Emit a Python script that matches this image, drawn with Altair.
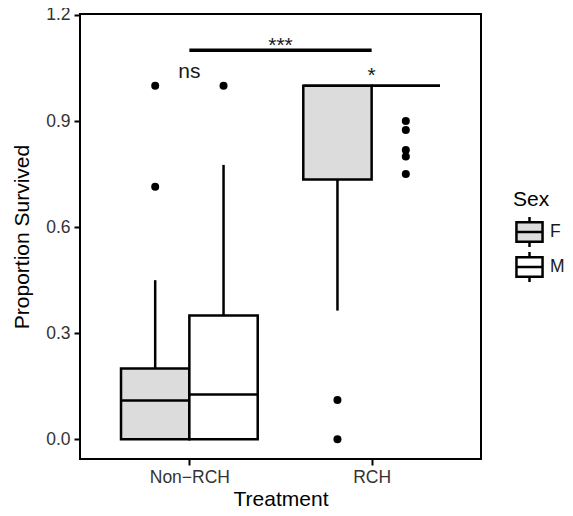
import altair as alt
import pandas as pd

# ---- data ----
treatments = ["Non−RCH", "RCH"]
sexes = ["F", "M"]

box_treatment = ["Non−RCH", "Non−RCH", "RCH", "RCH"]
box_sex = ["F", "M", "F", "M"]
lower_whisker = [0.0, 0.0, 0.364, 1.0]
q1 = [0.0, 0.0, 0.735, 1.0]
median = [0.11, 0.127, 1.0, 1.0]
q3 = [0.2, 0.35, 1.0, 1.0]
upper_whisker = [0.45, 0.776, 1.0, 1.0]

out_treatment = ["Non−RCH", "Non−RCH", "Non−RCH", "RCH", "RCH",
                 "RCH", "RCH", "RCH", "RCH", "RCH"]
out_sex = ["F", "F", "M", "F", "F", "M", "M", "M", "M", "M"]
out_value = [1.0, 0.714, 1.0, 0.111, 0.0, 0.9, 0.875, 0.818, 0.8, 0.75]

label_text = ["ns", "*"]
label_treatment = ["Non−RCH", "RCH"]
label_y = [1.022, 1.01]

bracket_from = "Non−RCH"
bracket_to = "RCH"
bracket_y = 1.1
bracket_text = "***"
bracket_text_y = 1.094

DODGE = 0.75  # total dodge width (ggplot default)


def pos(t):
    return treatments.index(t) + 1


def centre(t, s):
    return pos(t) + (sexes.index(s) - 0.5) * DODGE / 2


boxes = pd.DataFrame({
    "Treatment": box_treatment, "Sex": box_sex,
    "lw": lower_whisker, "q1": q1, "med": median, "q3": q3, "uw": upper_whisker,
})
boxes["xc"] = [centre(t, s) for t, s in zip(box_treatment, box_sex)]
boxes["xl"] = boxes["xc"] - DODGE / 4
boxes["xr"] = boxes["xc"] + DODGE / 4

outl = pd.DataFrame({"Treatment": out_treatment, "Sex": out_sex, "v": out_value})
outl["xc"] = [centre(t, s) for t, s in zip(out_treatment, out_sex)]

labels = pd.DataFrame({"text": label_text, "y": label_y})
labels["x"] = [pos(t) for t in label_treatment]

bracket = pd.DataFrame({"x": [pos(bracket_from)], "x2": [pos(bracket_to)],
                        "y": [bracket_y], "text": [bracket_text],
                        "ty": [bracket_text_y],
                        "xm": [(pos(bracket_from) + pos(bracket_to)) / 2]})

FONT = "Liberation Sans"
label_expr = " : ".join(
    [f"datum.value == {i + 1} ? '{t}'" for i, t in enumerate(treatments)]) + " : ''"

xscale = alt.Scale(domain=[0.4, 2.6], nice=False, zero=False)
yscale = alt.Scale(domain=[-0.0557, 1.2028], nice=False, zero=False)

xaxis = alt.Axis(values=[1, 2], labelExpr=label_expr, title="Treatment",
                 grid=False, domain=False, tickColor="black", tickWidth=2,
                 tickSize=6, labelFontSize=17.5, labelColor="#333333",
                 labelPadding=3, titleFontSize=21, titleFontWeight="normal",
                 titleColor="black", labelFont=FONT, titleFont=FONT,
                 titleY=46, titleBaseline="alphabetic")
yaxis = alt.Axis(values=[0, 0.3, 0.6, 0.9, 1.2], format=".1f",
                 title="Proportion Survived", grid=False, domain=False,
                 tickColor="black", tickWidth=2, tickSize=6,
                 labelFontSize=17.5, labelColor="#333333", labelPadding=4,
                 titleFontSize=21, titleFontWeight="normal", titleColor="black",
                 labelFont=FONT, titleFont=FONT, titleX=-51.5,
                 titleBaseline="alphabetic")

box_path = ("M-0.87,-0.645H0.87V0.645H-0.87Z M-0.87,0H0.87 "
            "M0,-0.645V-1 M0,0.645V1")

base_box = alt.Chart(boxes)

rect = base_box.mark_rect(stroke="black", strokeWidth=2.5).encode(
    x=alt.X("xl:Q", scale=xscale, axis=xaxis),
    x2="xr:Q",
    y=alt.Y("q1:Q", scale=yscale, axis=yaxis),
    y2="q3:Q",
    fill=alt.Fill("Sex:N", scale=alt.Scale(domain=sexes, range=["#dcdcdc", "white"]),
                  legend=alt.Legend(title="Sex", orient="none", legendX=433,
                                    legendY=175, symbolType=box_path,
                                    symbolSize=900, symbolStrokeColor="black",
                                    symbolStrokeWidth=2.5, symbolOpacity=1,
                                    titleFontSize=21, titleFontWeight="normal",
                                    titleColor="black", titleFont=FONT,
                                    labelFont=FONT, labelFontSize=17.5,
                                    labelColor="#1a1a1a", rowPadding=5,
                                    clipHeight=30,
                                    titlePadding=7, labelOffset=4)),
)

med = base_box.mark_rule(color="black", strokeWidth=2.5).encode(
    x=alt.X("xl:Q", scale=xscale), x2="xr:Q", y=alt.Y("med:Q", scale=yscale))

upper = base_box.mark_rule(color="black", strokeWidth=2.5).encode(
    x=alt.X("xc:Q", scale=xscale), y=alt.Y("q3:Q", scale=yscale), y2="uw:Q")

lower = base_box.mark_rule(color="black", strokeWidth=2.5).encode(
    x=alt.X("xc:Q", scale=xscale), y=alt.Y("lw:Q", scale=yscale), y2="q1:Q")

pts = alt.Chart(outl).mark_circle(size=64, color="black", opacity=1).encode(
    x=alt.X("xc:Q", scale=xscale), y=alt.Y("v:Q", scale=yscale))

txt = alt.Chart(labels).mark_text(font=FONT, fontSize=21, baseline="alphabetic",
                                  align="center", color="#1a1a1a").encode(
    x=alt.X("x:Q", scale=xscale), y=alt.Y("y:Q", scale=yscale), text="text:N")

brule = alt.Chart(bracket).mark_rule(color="black", strokeWidth=3.5).encode(
    x=alt.X("x:Q", scale=xscale), x2="x2:Q", y=alt.Y("y:Q", scale=yscale))

btxt = alt.Chart(bracket).mark_text(font=FONT, fontSize=21, baseline="alphabetic",
                                    align="center", color="#1a1a1a").encode(
    x=alt.X("xm:Q", scale=xscale), y=alt.Y("ty:Q", scale=yscale), text="text:N")

chart = alt.layer(rect, med, upper, lower, pts, brule, txt, btxt).properties(
    width=401, height=445,
    autosize=alt.AutoSizeParams(type="none"),
    padding={"left": 72, "top": 6, "right": 84, "bottom": 49},
).configure(font=FONT).configure_view(stroke="black", strokeWidth=2)

chart.save("out.html", embed_options={"renderer": "svg", "actions": False})
